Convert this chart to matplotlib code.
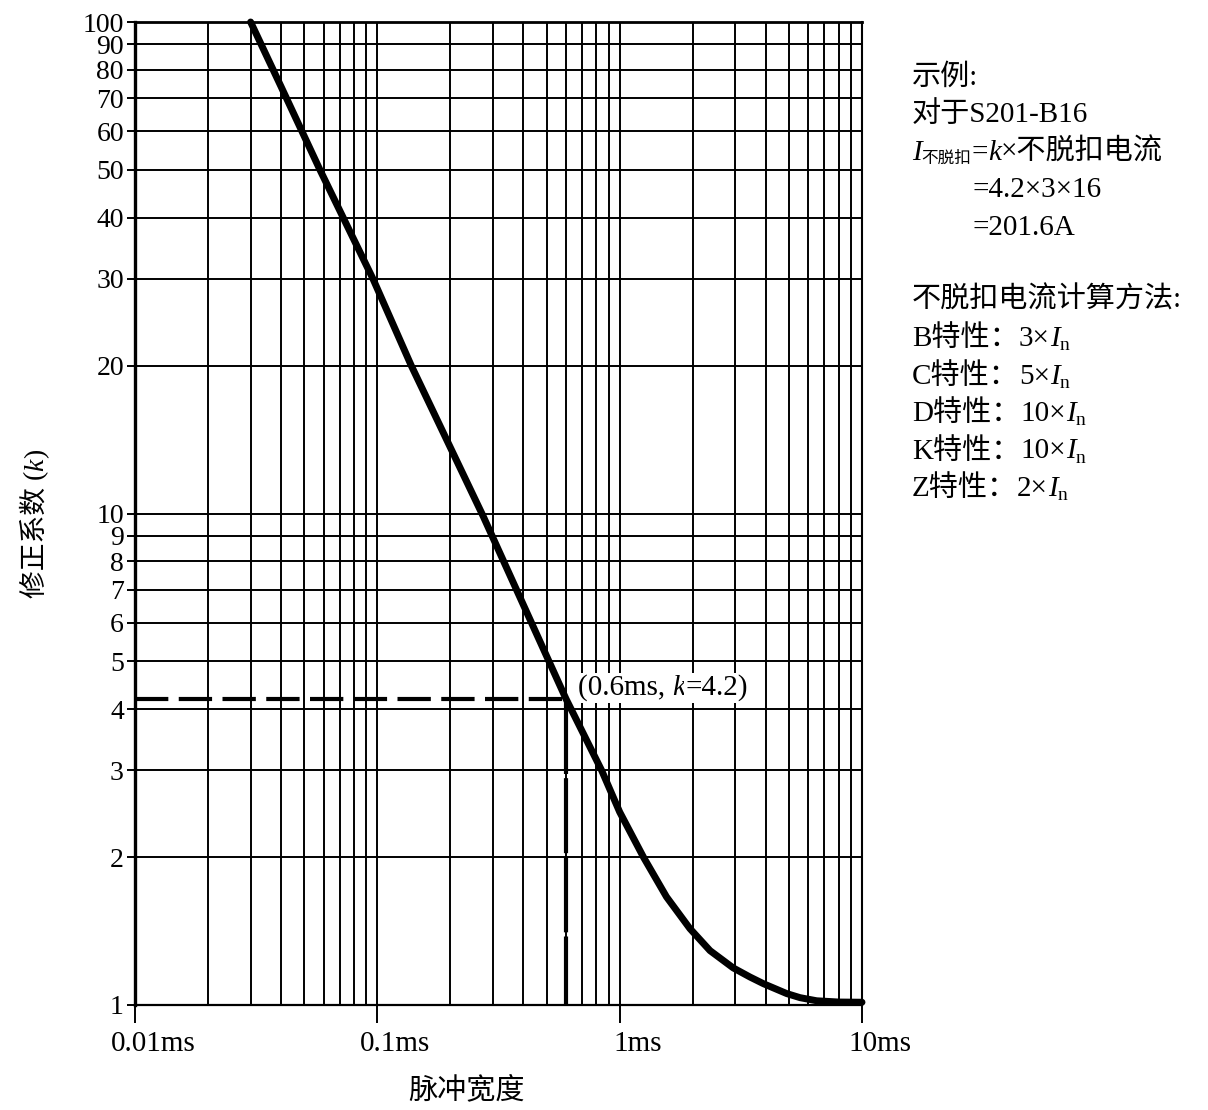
import matplotlib
matplotlib.use("Agg")
import matplotlib.pyplot as plt
import matplotlib.transforms as mtransforms
from matplotlib.ticker import FixedLocator, NullLocator, NullFormatter

plt.rcParams['font.family'] = ['Liberation Serif', 'Noto Sans CJK SC']

# pulse width (ms) and correction factor k
pulse_ms = [0.03, 0.04, 0.058, 0.096, 0.138, 0.274, 0.6, 0.843, 1.0, 1.253,
            1.56, 1.95, 2.36, 2.94, 3.45, 3.92, 4.89, 5.55, 6.5, 8.0, 10.0]
k_factor = [100, 74, 50, 30, 20, 9.85, 4.2, 3.0, 2.47, 2.0,
            1.66, 1.43, 1.29, 1.19, 1.14, 1.105, 1.055, 1.035, 1.02, 1.014, 1.013]

# example point
mark_t = 0.6
mark_k = 4.2

x_major = [0.01, 0.1, 1, 10]
x_major_labels = ['0.01ms', '0.1ms', '1ms', '10ms']
x_minor = [m * d for d in (0.01, 0.1, 1) for m in range(2, 10)]
y_ticks = [1, 2, 3, 4, 5, 6, 7, 8, 9, 10, 20, 30, 40, 50, 60, 70, 80, 90, 100]

W, H = 1208, 1110
fig = plt.figure(figsize=(W / 100, H / 100), dpi=100)
ax = fig.add_axes([135 / W, 1 - 1005 / H, (862 - 135) / W, (1005 - 22) / H])

ax.set_xscale('log')
ax.set_yscale('log')
ax.set_xlim(0.01, 10)
ax.set_ylim(1, 100)

ax.xaxis.set_major_locator(FixedLocator(x_major))
ax.set_xticklabels(x_major_labels, fontsize=21)
ax.xaxis.set_minor_locator(FixedLocator(x_minor))
ax.xaxis.set_minor_formatter(NullFormatter())
ax.yaxis.set_major_locator(FixedLocator(y_ticks))
ax.set_yticklabels([str(v) for v in y_ticks], fontsize=20)
ax.yaxis.set_minor_locator(NullLocator())

ax.tick_params(axis='x', which='major', direction='out', length=13, width=1.4, pad=6)
ax.tick_params(axis='x', which='minor', length=0)
ax.tick_params(axis='y', which='major', direction='out', length=6, width=1.4, pad=2)

# shift x tick labels a bit to the right like the original
shift = mtransforms.ScaledTranslation(18 / 100, 0, fig.dpi_scale_trans)
for lab in ax.get_xticklabels():
    lab.set_transform(lab.get_transform() + shift)

ax.grid(True, which='both', color='black', linewidth=1.4)
for side, lw in (('left', 2.4), ('bottom', 1.6), ('top', 2.0), ('right', 1.5)):
    ax.spines[side].set_linewidth(lw)

# dashed guide lines for the example point
ax.plot([0.01, mark_t], [mark_k, mark_k], color='black', lw=3.0,
        dashes=(8, 2.5), zorder=3)
ax.plot([mark_t, mark_t], [mark_k, 1], color='black', lw=3.0,
        dashes=(18, 1), zorder=3, clip_on=False)

# main curve
ax.plot(pulse_ms, k_factor, color='black', lw=5, solid_capstyle='round',
        solid_joinstyle='round', zorder=4, clip_on=False)

renderer = fig.canvas.get_renderer()


def rich(x, y, parts, size=21, box=False):
    # parts: (text, italic, size, dy); x, y in pixels from top-left
    for s, italic, sz, dy in parts:
        t = fig.text(x / W, 1 - (y + dy) / H, s, fontsize=sz or size,
                     style='italic' if italic else 'normal',
                     ha='left', va='baseline')
        if box:
            t.set_bbox(dict(facecolor='white', edgecolor='none', pad=1))
        x += t.get_window_extent(renderer).width


# annotation of the example point
rich(578, 695, [('(0.6ms, ', False, None, 0), ('k', True, None, 0),
                ('=4.2)', False, None, 0)], box=True)

# right side explanation
rich(912, 85, [('示例:', False, None, 0)])
rich(912, 122, [('对于S201-B16', False, None, 0)])
rich(912, 160, [('I', True, None, 0), ('不脱扣', False, 12, 3),
                ('=', False, None, 0), ('k', True, None, 0),
                ('×不脱扣电流', False, None, 0)])
rich(972, 197, [('=4.2×3×16', False, None, 0)])
rich(972, 235, [('=201.6A', False, None, 0)])
rich(912, 308, [('不脱扣电流计算方法:', False, None, 0)])
for i, (name, mult) in enumerate([('B', '3'), ('C', '5'), ('D', '10'),
                                  ('K', '10'), ('Z', '2')]):
    rich(912, 346 + i * 37.5, [(name + '特性：', False, None, 0),
                               (mult + '×', False, None, 0),
                               ('I', True, None, 0), ('n', False, 14, 4)])

# axis titles
fig.text(467 / W, 1 - 1098 / H, '脉冲宽度', fontsize=21, ha='center',
         va='baseline')

yx, yy = 43, 598
for s, italic in (('修正系数 (', False), ('k', True), (')', False)):
    t = fig.text(yx / W, 1 - yy / H, s, fontsize=20, rotation=90,
                 rotation_mode='anchor', ha='left', va='baseline',
                 style='italic' if italic else 'normal')
    yy -= t.get_window_extent(renderer).height

fig.savefig('out.png', dpi=100)
